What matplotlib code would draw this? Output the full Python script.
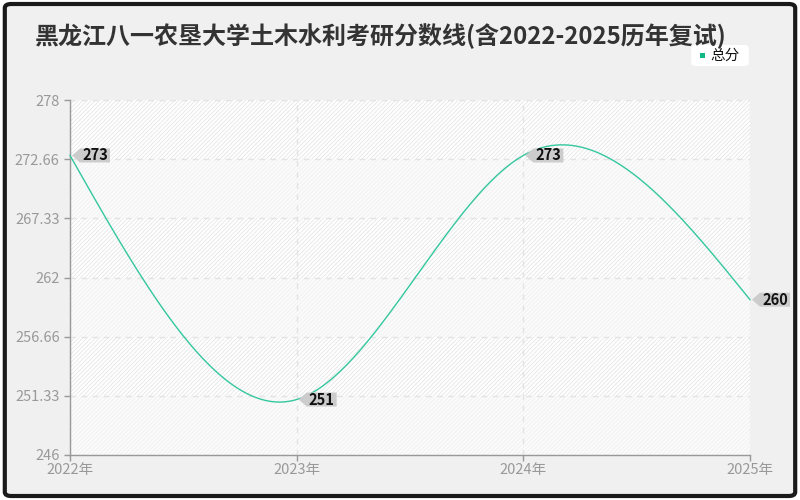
import numpy as np
import matplotlib
matplotlib.use("Agg")
import matplotlib.pyplot as plt
from matplotlib.patches import FancyBboxPatch, Rectangle, Polygon

plt.rcParams['font.family'] = ['Noto Sans CJK SC', 'DejaVu Sans']
plt.rcParams['hatch.linewidth'] = 0.6

# ---- data ----
years = [2022, 2023, 2024, 2025]
x_labels = ['2022年', '2023年', '2024年', '2025年']
scores = [273, 251, 273, 260]
y_ticks = [246, 251.33, 256.66, 262, 267.33, 272.66, 278]
y_tick_labels = ['246', '251.33', '256.66', '262', '267.33', '272.66', '278']
title = '黑龙江八一农垦大学土木水利考研分数线(含2022-2025历年复试)'
series_name = '总分'

LINE = '#34c79e'

def natural_spline(xs, ys, n=200):
    xs = np.asarray(xs, float); ys = np.asarray(ys, float)
    k = len(xs); h = np.diff(xs)
    A = np.zeros((k, k)); b = np.zeros(k)
    A[0, 0] = 1; A[-1, -1] = 1
    for i in range(1, k - 1):
        A[i, i - 1] = h[i - 1]; A[i, i] = 2 * (h[i - 1] + h[i]); A[i, i + 1] = h[i]
        b[i] = 6 * ((ys[i + 1] - ys[i]) / h[i] - (ys[i] - ys[i - 1]) / h[i - 1])
    M = np.linalg.solve(A, b)
    xx = np.linspace(xs[0], xs[-1], n)
    yy = np.empty_like(xx)
    for j, xv in enumerate(xx):
        i = min(np.searchsorted(xs, xv, side='right') - 1, k - 2)
        t0 = xs[i + 1] - xv; t1 = xv - xs[i]; hi = h[i]
        yy[j] = (M[i] * t0 ** 3 + M[i + 1] * t1 ** 3) / (6 * hi) + \
                (ys[i] / hi - M[i] * hi / 6) * t0 + (ys[i + 1] / hi - M[i + 1] * hi / 6) * t1
    return xx, yy

fig = plt.figure(figsize=(8, 5), dpi=100)
fig.patch.set_facecolor('white')
frame = FancyBboxPatch((0.006, 0.008), 0.988, 0.984, boxstyle='round,pad=0,rounding_size=0.008',
                       transform=fig.transFigure, facecolor='#f0f0f0', edgecolor='#1a1a1a',
                       linewidth=3, zorder=-10)
fig.patches.append(frame)

ax = fig.add_axes([0.0875, 0.09, 0.85, 0.71])
ax.set_facecolor('white')
ax.set_xlim(years[0], years[-1])
ax.set_ylim(y_ticks[0], y_ticks[-1])

# alternating hatched bands
for i in range(len(y_ticks) - 1):
    strong = (len(y_ticks) - 2 - i) % 2 == 0
    ax.add_patch(Rectangle((years[0], y_ticks[i]), years[-1] - years[0], y_ticks[i + 1] - y_ticks[i],
                           facecolor='white' if strong else '#fbfbfb',
                           edgecolor='#e6e6e6' if strong else '#f0f0f0',
                           hatch='////////', linewidth=0, zorder=0))

ax.set_yticks(y_ticks)
ax.set_yticklabels(y_tick_labels)
ax.set_xticks(years)
ax.set_xticklabels(x_labels)
ax.grid(True, color='#e3e3e3', linestyle=(0, (4, 4)), linewidth=1)
ax.set_axisbelow(True)
for s in ['top', 'right']:
    ax.spines[s].set_visible(False)
for s in ['left', 'bottom']:
    ax.spines[s].set_color('#999999')
    ax.spines[s].set_linewidth(1)
ax.tick_params(colors='#999999', labelcolor='#999999', labelsize=10.5, length=4, width=1)
ax.tick_params(axis='x', pad=2)

xx, yy = natural_spline(years, scores)
ax.plot(xx, yy, color=LINE, linewidth=1, zorder=5, clip_on=False)

# value labels
inv = ax.transAxes.inverted()
for xv, yv in zip(years, scores):
    px, py = ax.transData.transform((xv, yv))
    verts_px = [(px + 2, py), (px + 10, py + 7), (px + 40, py + 7), (px + 40, py - 7), (px + 10, py - 7)]
    verts = inv.transform(verts_px)
    ax.add_patch(Polygon(verts, closed=True, transform=ax.transAxes, facecolor='#cccccc',
                         edgecolor='none', zorder=6, clip_on=False))
    tx, ty = inv.transform((px + 25, py))
    ax.text(tx, ty, str(yv), transform=ax.transAxes, ha='center', va='center', fontsize=10.5,
            fontweight='bold', color='#111111', zorder=7, clip_on=False)

fig.text(0.044, 0.928, title, fontsize=17.3, fontweight='bold', color='#333333', ha='left', va='center')

# legend
leg = FancyBboxPatch((0.864, 0.868), 0.072, 0.042, boxstyle='round,pad=0,rounding_size=0.006',
                     transform=fig.transFigure, facecolor='white', edgecolor='none')
fig.patches.append(leg)
fig.patches.append(Rectangle((0.875, 0.884), 0.0065, 0.01, transform=fig.transFigure,
                             facecolor='#12b886', edgecolor='none'))
fig.text(0.888, 0.889, series_name, fontsize=10.5, color='#111111', ha='left', va='center')

fig.savefig('out.png', dpi=100)
